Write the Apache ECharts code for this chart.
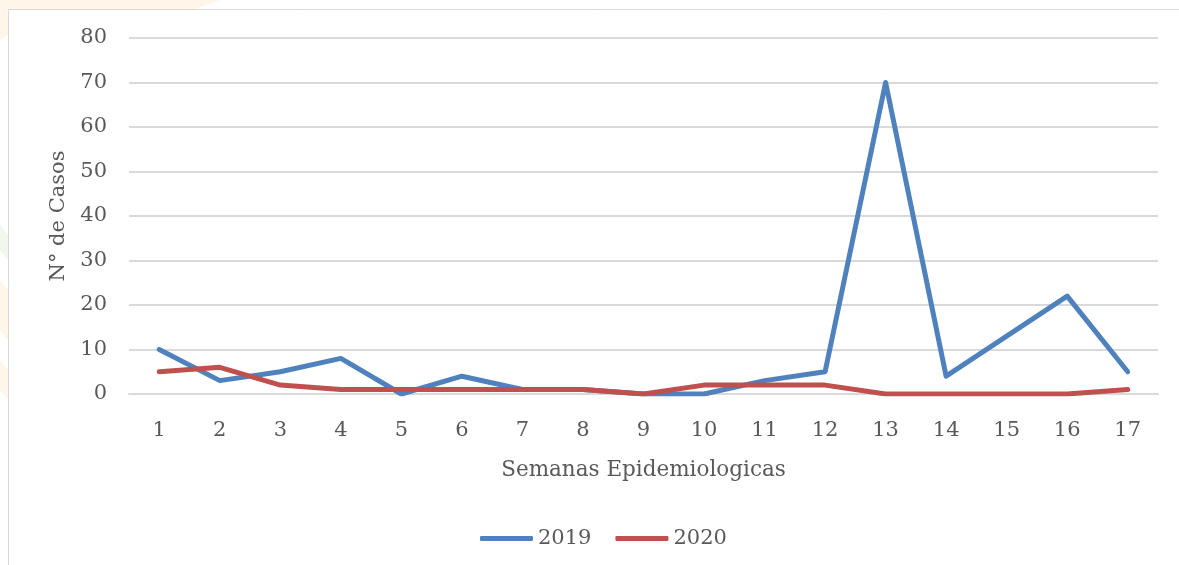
<!DOCTYPE html>
<html>
<head>
<meta charset="utf-8">
<script src="https://cdn.jsdelivr.net/npm/echarts@6/dist/echarts.min.js"></script>
<style>
html,body{margin:0;padding:0;background:#fff;}
#c{width:1179px;height:565px;}
</style>
</head>
<body>
<div id="c"></div>
<script>
const weeks = ['1','2','3','4','5','6','7','8','9','10','11','12','13','14','15','16','17'];
const cases2019 = [10,3,5,8,0,4,1,1,0,0,3,5,70,4,13,22,5];
const cases2020 = [5,6,2,1,1,1,1,1,0,2,2,2,0,0,0,0,1];
const yTicks = [0,80,10];

const FONT = 'DejaVu Serif';
const TXT = '#595959';
const chart = echarts.init(document.getElementById('c'));
chart.setOption({
  animation:false,
  backgroundColor:'#fff',
  graphic:[
    {type:'polygon',silent:true,z:-10,shape:{points:[[0,0],[220,0],[196,9],[0,9]]},style:{fill:'#fff5e8'}},
    {type:'polygon',silent:true,z:-10,shape:{points:[[0,0],[8,0],[8,35],[0,40]]},style:{fill:'#fff5e8'}},
    {type:'polygon',silent:true,z:-10,shape:{points:[[0,225],[8,235],[8,260],[0,250]]},style:{fill:'#f1f7ea'}},
    {type:'polygon',silent:true,z:-10,shape:{points:[[0,280],[8,290],[8,340],[0,330]]},style:{fill:'#fff5e8'}},
    {type:'polygon',silent:true,z:-10,shape:{points:[[0,360],[8,370],[8,400],[0,390]]},style:{fill:'#fff5e8'}},
    {type:'rect',silent:true,z:-5,shape:{x:8.5,y:9.5,width:1200,height:600},style:{fill:'#fff',stroke:'#d9d9d9',lineWidth:1}}
  ],
  grid:{left:129,right:21,top:38,bottom:171},
  legend:{
    bottom:11,left:475,
    data:['2019','2020'],
    icon:'roundRect',itemWidth:53,itemHeight:5,itemGap:24,
    textStyle:{fontFamily:FONT,fontSize:21,color:TXT,padding:[0,0,0,0]}
  },
  xAxis:{
    type:'category',data:weeks,boundaryGap:true,
    name:'Semanas Epidemiologicas',nameLocation:'middle',nameGap:65,
    nameTextStyle:{fontFamily:FONT,fontSize:21.5,color:TXT},
    axisLine:{show:true,lineStyle:{color:'#d9d9d9',width:2}},
    axisTick:{show:false},
    axisLabel:{fontFamily:FONT,fontSize:21,color:TXT,margin:26}
  },
  yAxis:{
    type:'value',min:yTicks[0],max:yTicks[1],interval:yTicks[2],
    name:'N° de Casos',nameLocation:'middle',nameGap:57,nameRotate:90,
    nameTextStyle:{fontFamily:FONT,fontSize:21,color:TXT},
    axisLine:{show:false},axisTick:{show:false},
    axisLabel:{fontFamily:FONT,fontSize:21,color:TXT,margin:22},
    splitLine:{lineStyle:{color:'#d9d9d9',width:2}}
  },
  series:[
    {name:'2019',type:'line',data:cases2019,symbol:'none',
     lineStyle:{color:'#4f81bd',width:5,cap:'round',join:'round'},itemStyle:{color:'#4f81bd'}},
    {name:'2020',type:'line',data:cases2020,symbol:'none',
     lineStyle:{color:'#c0504d',width:5,cap:'round',join:'round'},itemStyle:{color:'#c0504d'}}
  ]
});
</script>
</body>
</html>
